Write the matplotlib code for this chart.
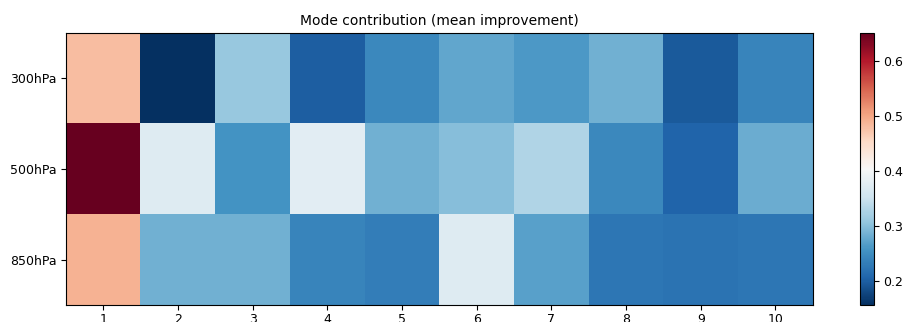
import matplotlib
matplotlib.use("Agg")
import matplotlib.pyplot as plt
import numpy as np

levels = ["300hPa", "500hPa", "850hPa"]
modes = [1, 2, 3, 4, 5, 6, 7, 8, 9, 10]
v300 = [0.480, 0.156, 0.310, 0.200, 0.245, 0.275, 0.262, 0.285, 0.195, 0.240]
v500 = [0.652, 0.372, 0.255, 0.378, 0.285, 0.298, 0.330, 0.245, 0.205, 0.280]
v850 = [0.490, 0.285, 0.285, 0.240, 0.232, 0.372, 0.270, 0.225, 0.220, 0.225]

data = np.array([v300, v500, v850])

fig = plt.figure(figsize=(9.04, 3.22), dpi=100)
ax = fig.add_axes([0.073, 0.053, 0.826, 0.845])
cax = fig.add_axes([0.951, 0.053, 0.0155, 0.845])

im = ax.imshow(data, cmap="RdBu_r", aspect="auto")
ax.set_xticks(range(len(modes)))
ax.set_xticklabels([str(m) for m in modes], fontsize=9)
ax.tick_params(axis="x", pad=2)
ax.set_yticks(range(len(levels)))
ax.set_yticklabels(levels, fontsize=9)
ax.set_title("Mode contribution (mean improvement)", fontsize=10)

cb = fig.colorbar(im, cax=cax)
cb.ax.tick_params(labelsize=9)

fig.savefig("out.png", dpi=100)
